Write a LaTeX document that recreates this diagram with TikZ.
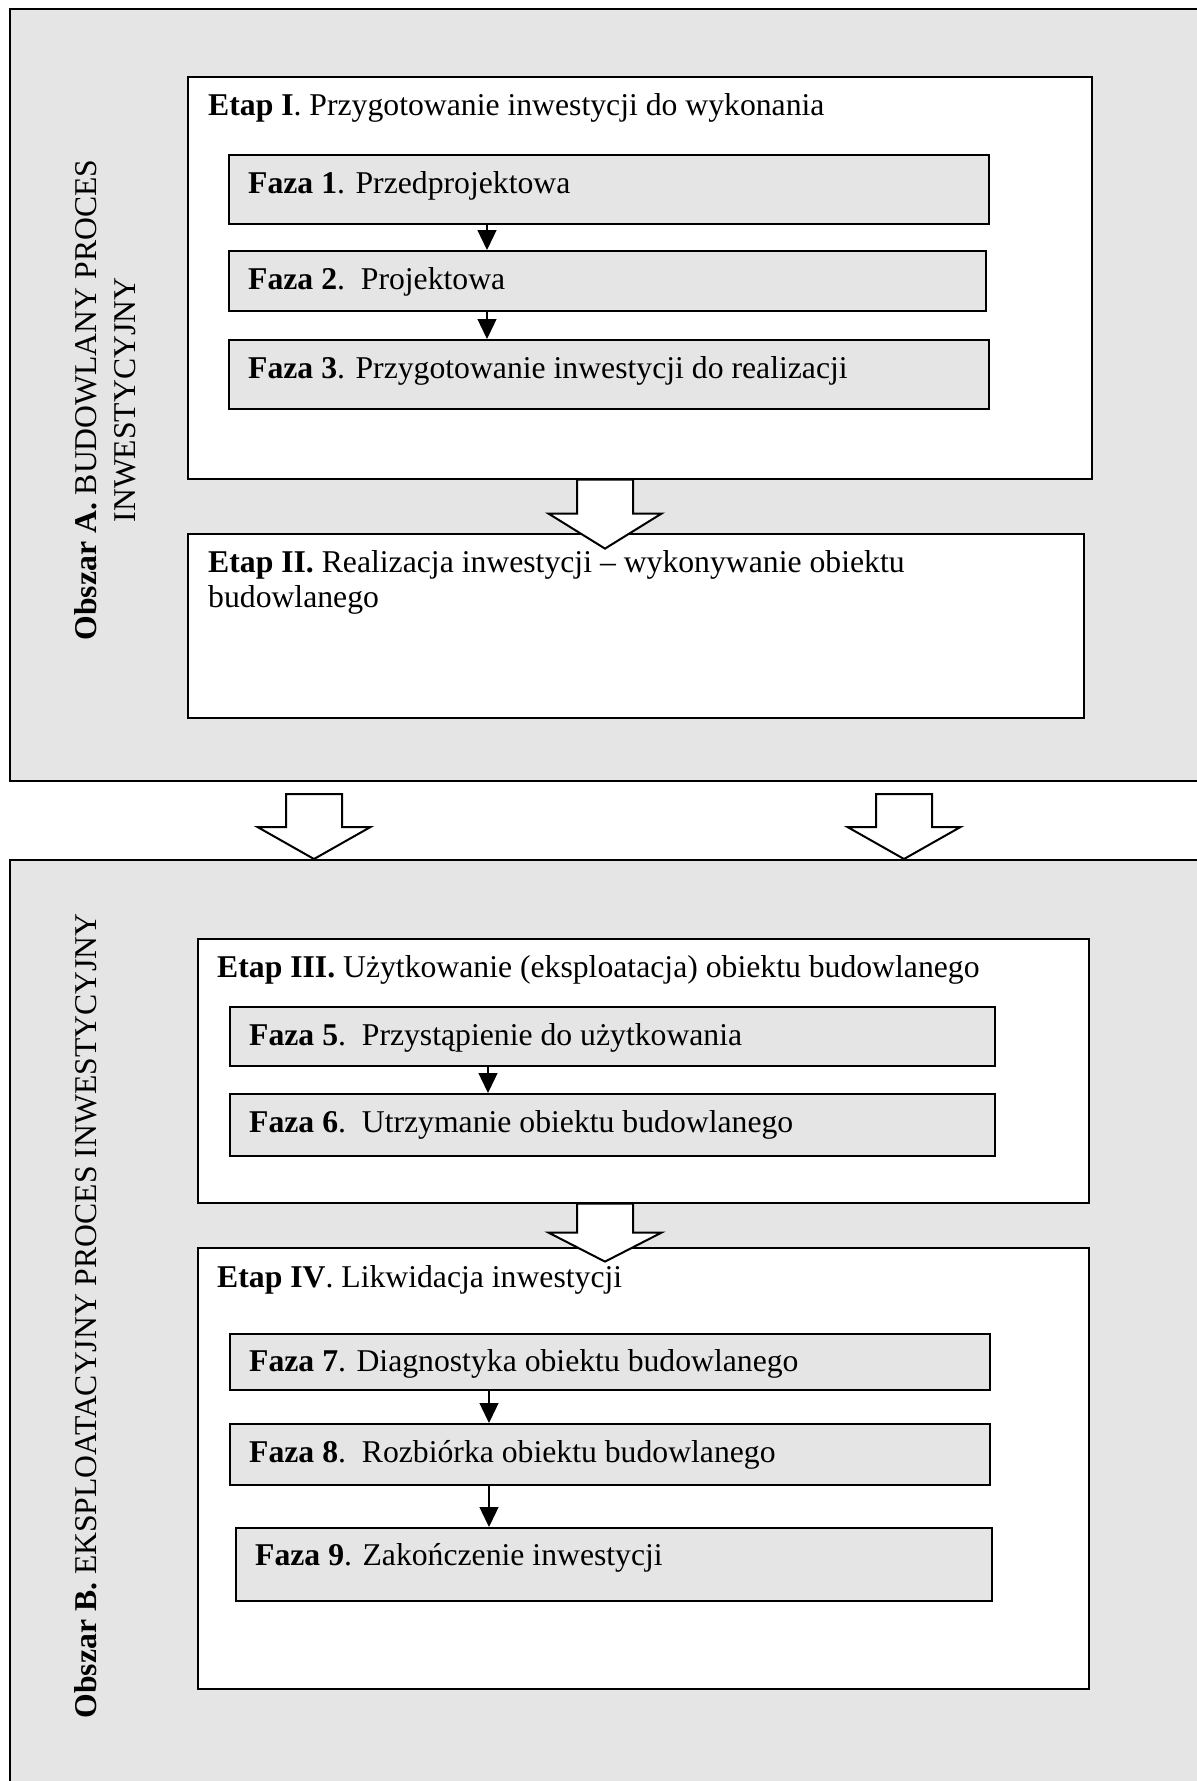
\documentclass[tikz,border=0pt]{standalone}
\usepackage{fontspec}
\setmainfont{Liberation Serif}
\usetikzlibrary{arrows.meta}
\definecolor{grau}{RGB}{229,229,229}
\begin{document}
\begin{tikzpicture}[x=1pt,y=-1pt,
        every node/.style={font=\fontsize{31.7}{36}\selectfont,inner sep=0pt},
        obszar/.style={rectangle,draw,fill=grau,line width=1.6pt,anchor=north west},
        etap/.style={rectangle,draw,fill=white,line width=1.6pt,anchor=north west},
        faza/.style={rectangle,draw,fill=grau,line width=1.6pt,anchor=north west},
        tekst/.style={anchor=base west},
        pfeil/.style={line width=1.3pt,-{Triangle[length=20pt,width=19pt]}},
        hohl/.style={draw,fill=white,line width=2pt,line join=miter}]
                    \useasboundingbox (0,0) rectangle (1197,1781);
                    \clip (0,0) rectangle (1197,1781);
                    \coordinate (s1) at (487,0);\coordinate (s3) at (488,0);\coordinate (s4) at (489,0);
                    \coordinate (h1) at (605,0);\coordinate (h2) at (314,0);\coordinate (h3) at (904,0);
                    \node[obszar,minimum width=1220pt,minimum height=772pt] (A) at (9,8) {};
                    \node[obszar,minimum width=1220pt,minimum height=960pt] (B) at (9,859) {};
                    \node[rotate=90,align=center,font=\fontsize{31.7}{39}\selectfont] (OA) at (105,400) {\textbf{Obszar A.} BUDOWLANY PROCES\\INWESTYCYJNY};
                    \node[rotate=90] (OB) at (86,1316) {\textbf{Obszar B.} EKSPLOATACYJNY PROCES INWESTYCYJNY};
                    \node[etap,minimum width=904pt,minimum height=402pt] (E1) at (187,76) {};
                    \node[faza,minimum width=760pt,minimum height=69pt] (F1) at (228,154) {};
                    \node[faza,minimum width=757pt,minimum height=60pt] (F2) at (228,250) {};
                    \node[faza,minimum width=760pt,minimum height=69pt] (F3) at (228,339) {};
                    \node[etap,minimum width=896pt,minimum height=184pt] (E2) at (187,533) {};
                    \node[etap,minimum width=891pt,minimum height=264pt] (E3) at (197,938) {};
                    \node[faza,minimum width=765pt,minimum height=59pt] (F5) at (229,1006) {};
                    \node[faza,minimum width=765pt,minimum height=62pt] (F6) at (229,1093) {};
                    \node[etap,minimum width=891pt,minimum height=441pt] (E4) at (197,1247) {};
                    \node[faza,minimum width=760pt,minimum height=56pt] (F7) at (229,1333) {};
                    \node[faza,minimum width=760pt,minimum height=61pt] (F8) at (229,1423) {};
                    \node[faza,minimum width=756pt,minimum height=73pt] (F9) at (235,1527) {};
                    \node[tekst] (tE1) at ([xshift=21pt,yshift=-39pt]E1.north west) {\textbf{Etap I}. Przygotowanie inwestycji do wykonania};
                    \node[tekst] (tF1) at ([xshift=20pt,yshift=-39pt]F1.north west) {\textbf{Faza 1}. Przedprojektowa};
                    \node[tekst] (tF2) at ([xshift=20pt,yshift=-39pt]F2.north west) {\textbf{Faza 2}.\ \ Projektowa};
                    \node[tekst] (tF3) at ([xshift=20pt,yshift=-39pt]F3.north west) {\textbf{Faza 3}. Przygotowanie inwestycji do realizacji};
                    \node[tekst] (tE2) at ([xshift=21pt,yshift=-39pt]E2.north west) {\parbox[t]{820pt}{\fontsize{31.7}{35}\selectfont\textbf{Etap II.} Realizacja inwestycji – wykonywanie obiektu\\budowlanego}};
                    \node[tekst] (tE3) at ([xshift=20pt,yshift=-39pt]E3.north west) {\textbf{Etap III.} Użytkowanie (eksploatacja) obiektu budowlanego};
                    \node[tekst] (tF5) at ([xshift=20pt,yshift=-39pt]F5.north west) {\textbf{Faza 5}.\ \ Przystąpienie do użytkowania};
                    \node[tekst] (tF6) at ([xshift=20pt,yshift=-39pt]F6.north west) {\textbf{Faza 6}.\ \ Utrzymanie obiektu budowlanego};
                    \node[tekst] (tE4) at ([xshift=20pt,yshift=-40pt]E4.north west) {\textbf{Etap IV}. Likwidacja inwestycji};
                    \node[tekst] (tF7) at ([xshift=20pt,yshift=-38pt]F7.north west) {\textbf{Faza 7}. Diagnostyka obiektu budowlanego};
                    \node[tekst] (tF8) at ([xshift=20pt,yshift=-39pt]F8.north west) {\textbf{Faza 8}.\ \ Rozbiórka obiektu budowlanego};
                    \node[tekst] (tF9) at ([xshift=20pt,yshift=-38pt]F9.north west) {\textbf{Faza 9}. Zakończenie inwestycji};
                    \draw[pfeil] (F1.south -| s1) -- (F2.north -| s1);
                    \draw[pfeil] (F2.south -| s1) -- (F3.north -| s1);
                    \draw[pfeil] (F5.south -| s3) -- (F6.north -| s3);
                    \draw[pfeil] (F7.south -| s4) -- (F8.north -| s4);
                    \draw[pfeil] (F8.south -| s4) -- (F9.north -| s4);
                    \draw[hohl] (E1.south -| h1) -- ++(-28,0) -- ++(0,34) -- ++(-28.5,0) -- ++(56.5,35) -- ++(56.5,-35) -- ++(-28.5,0) -- ++(0,-34) -- cycle;
                    \draw[hohl] (B.north -| h2) -- ++(-56.5,-32) -- ++(28.5,0) -- ++(0,-33) -- ++(56,0) -- ++(0,33) -- ++(28.5,0) -- cycle;
                    \draw[hohl] (B.north -| h3) -- ++(-56.5,-32) -- ++(28.5,0) -- ++(0,-33) -- ++(56,0) -- ++(0,33) -- ++(28.5,0) -- cycle;
                    \draw[hohl] (E3.south -| h1) -- ++(-28,0) -- ++(0,29) -- ++(-28.5,0) -- ++(56.5,29) -- ++(56.5,-29) -- ++(-28.5,0) -- ++(0,-29) -- cycle;
\end{tikzpicture}
\end{document}
